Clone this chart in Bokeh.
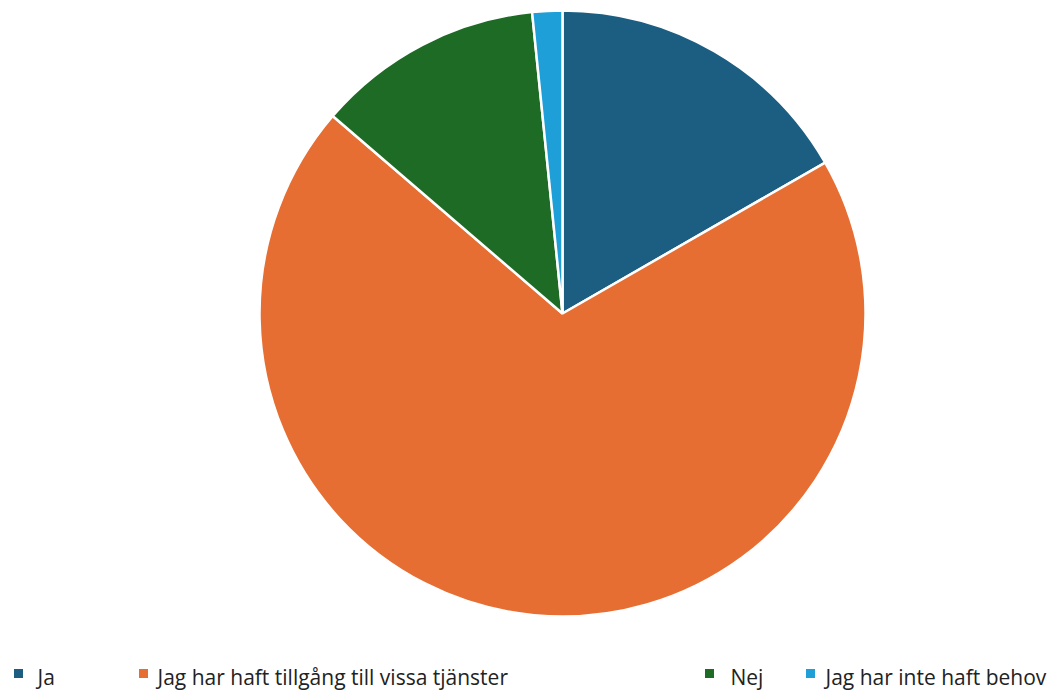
import numpy as np
from bokeh.plotting import figure
from bokeh.models import Range1d, ColumnDataSource
from bokeh.core.properties import value
from bokeh.embed import file_html
from bokeh.resources import INLINE

# Data
categories = ["Ja", "Jag har haft tillgång till vissa tjänster", "Nej", "Jag har inte haft behov"]
shares = [16.7, 69.6, 12.1, 1.6]
colors = ["#1b5e82", "#e66e33", "#1e6b26", "#1e9fd8"]

W, H = 1048, 690
p = figure(width=W, height=H, output_backend="svg", toolbar_location=None,
           x_range=Range1d(0, W), y_range=Range1d(0, H), min_border=0)
p.axis.visible = False
p.grid.visible = False
p.outline_line_color = None
p.background_fill_color = "white"

def px(x):
    return x

def py(y):
    return H - y

vals = np.array(shares, dtype=float)
frac = vals / vals.sum() * 2 * np.pi
ends = np.cumsum(frac)
starts = ends - frac
start_angle = np.pi / 2 - starts
end_angle = np.pi / 2 - ends

src = ColumnDataSource(dict(start=start_angle, end=end_angle, color=colors, cat=categories))
p.wedge(x=px(562), y=py(313), radius=303, start_angle="end", end_angle="start",
        fill_color="color", line_color="white", line_width=2.5, source=src)

# Legend (layout positions)
marker_x = [18, 143, 709, 810]
text_x = [37, 157, 730, 825]
lsrc = ColumnDataSource(dict(mx=[px(v) for v in marker_x], tx=[px(v) for v in text_x],
                             my=[py(673)] * 4, ty=[py(676)] * 4, color=colors, cat=categories))
p.scatter(x="mx", y="my", marker="square", size=9, fill_color="color", line_color=None, source=lsrc)
p.text(x="tx", y="ty", text="cat", text_font=value("Open Sans"), text_font_size="21px",
       text_color="#222222", text_baseline="middle", text_align="left", source=lsrc)

open("out.html", "w").write(file_html(p, INLINE))
